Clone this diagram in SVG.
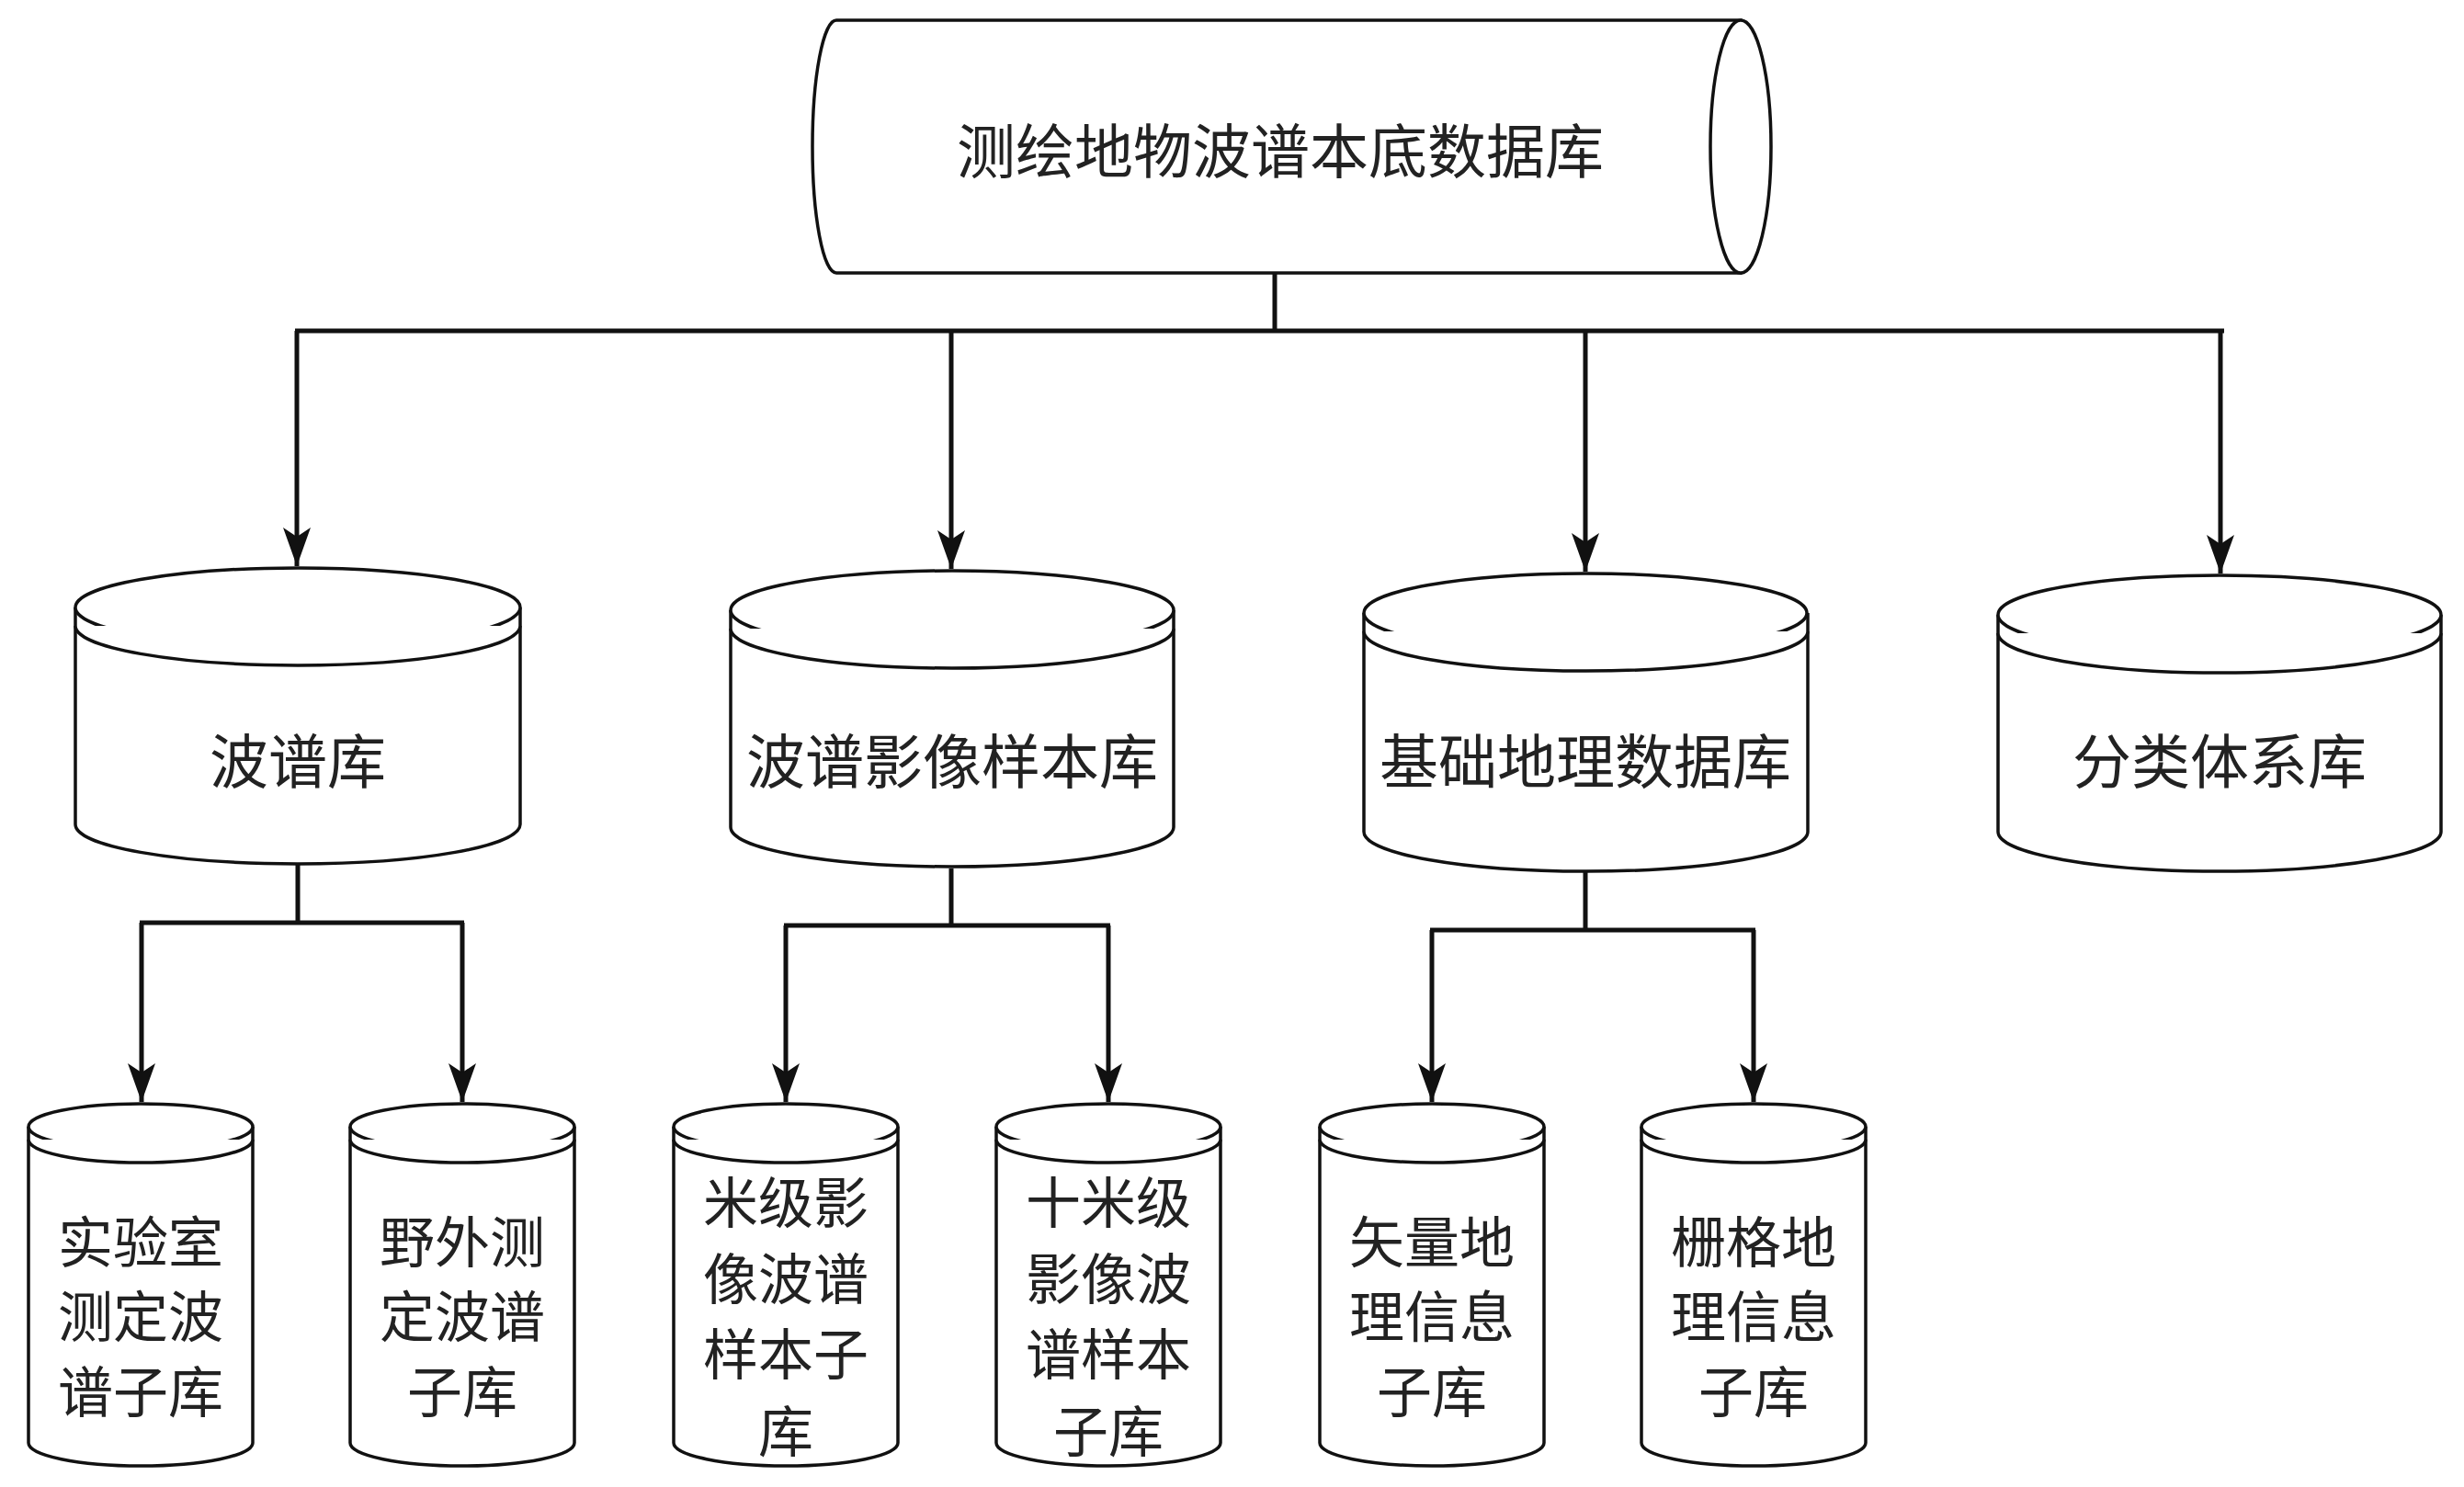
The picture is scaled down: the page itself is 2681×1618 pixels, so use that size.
<svg xmlns="http://www.w3.org/2000/svg" width="2681" height="1618" viewBox="0 0 2681 1618">
<style>
.s{fill:#fff;stroke:#111;stroke-width:3.5}
.c{fill:none;stroke:#111;stroke-width:5}
.t{font-family:"Noto Sans CJK SC",sans-serif;font-size:64px;fill:#222;text-anchor:middle;dominant-baseline:central}
.u{font-size:60px}
</style>
<defs>
<marker id="a" markerUnits="userSpaceOnUse" markerWidth="44" markerHeight="30" refX="42" refY="15" orient="auto" viewBox="0 0 44 30">
<path d="M0 0 L42 15 L0 30 L10 15 Z" fill="#111"/>
</marker>
</defs>
<g id="root">
<path class="s" d="M910 22 H1894 V297 H910 A26 137.5 0 0 1 910 22 Z"/>
<ellipse class="s" cx="1894" cy="159.5" rx="33" ry="137.5"/>
<text class="t" x="1393" y="160">测绘地物波谱本底数据库</text>
</g>
<g id="mid1"><path class="s" d="M82 661 V897 A242 43 0 0 0 566 897 V661"/><ellipse class="s" cx="324" cy="661" rx="242" ry="43"/><path class="s" fill="none" d="M82 681 A242 43 0 0 0 566 681"/><text class="t" x="324" y="824">波谱库</text></g>
<g id="mid2"><path class="s" d="M795 664 V900 A241 43 0 0 0 1277 900 V664"/><ellipse class="s" cx="1036" cy="664" rx="241" ry="43"/><path class="s" d="M795 684 A241 43 0 0 0 1277 684"/><text class="t" x="1036" y="824">波谱影像样本库</text></g>
<g id="mid3"><path class="s" d="M1484 667 V905 A241 43 0 0 0 1967 905 V667"/><ellipse class="s" cx="1725" cy="667" rx="241" ry="43"/><path class="s" d="M1484 687 A241 43 0 0 0 1967 687"/><text class="t" x="1725" y="824">基础地理数据库</text></g>
<g id="mid4"><path class="s" d="M2174 669 V905 A241 43 0 0 0 2656 905 V669"/><ellipse class="s" cx="2415" cy="669" rx="241" ry="43"/><path class="s" d="M2174 689 A241 43 0 0 0 2656 689"/><text class="t" x="2415" y="824">分类体系库</text></g>
<g id="b1"><path class="s" d="M31 1226 V1570 A122 25 0 0 0 275 1570 V1226"/><ellipse class="s" cx="153" cy="1226" rx="122" ry="25"/><path class="s" d="M31 1240 A122 25 0 0 0 275 1240"/><text class="t u"><tspan x="153" y="1347">实验室</tspan><tspan x="153" y="1428">测定波</tspan><tspan x="153" y="1510">谱子库</tspan></text></g>
<g id="b2"><path class="s" d="M381 1226 V1570 A122 25 0 0 0 625 1570 V1226"/><ellipse class="s" cx="503" cy="1226" rx="122" ry="25"/><path class="s" d="M381 1240 A122 25 0 0 0 625 1240"/><text class="t u"><tspan x="503" y="1347">野外测</tspan><tspan x="503" y="1428">定波谱</tspan><tspan x="503" y="1510">子库</tspan></text></g>
<g id="b3"><path class="s" d="M733 1226 V1570 A122 25 0 0 0 977 1570 V1226"/><ellipse class="s" cx="855" cy="1226" rx="122" ry="25"/><path class="s" d="M733 1240 A122 25 0 0 0 977 1240"/><text class="t u"><tspan x="855" y="1304">米级影</tspan><tspan x="855" y="1387">像波谱</tspan><tspan x="855" y="1469">样本子</tspan><tspan x="855" y="1553">库</tspan></text></g>
<g id="b4"><path class="s" d="M1084 1226 V1570 A122 25 0 0 0 1328 1570 V1226"/><ellipse class="s" cx="1206" cy="1226" rx="122" ry="25"/><path class="s" d="M1084 1240 A122 25 0 0 0 1328 1240"/><text class="t u"><tspan x="1206" y="1304">十米级</tspan><tspan x="1206" y="1387">影像波</tspan><tspan x="1206" y="1469">谱样本</tspan><tspan x="1206" y="1553">子库</tspan></text></g>
<g id="b5"><path class="s" d="M1436 1226 V1570 A122 25 0 0 0 1680 1570 V1226"/><ellipse class="s" cx="1558" cy="1226" rx="122" ry="25"/><path class="s" d="M1436 1240 A122 25 0 0 0 1680 1240"/><text class="t u"><tspan x="1558" y="1347">矢量地</tspan><tspan x="1558" y="1428">理信息</tspan><tspan x="1558" y="1510">子库</tspan></text></g>
<g id="b6"><path class="s" d="M1786 1226 V1570 A122 25 0 0 0 2030 1570 V1226"/><ellipse class="s" cx="1908" cy="1226" rx="122" ry="25"/><path class="s" d="M1786 1240 A122 25 0 0 0 2030 1240"/><text class="t u"><tspan x="1908" y="1347">栅格地</tspan><tspan x="1908" y="1428">理信息</tspan><tspan x="1908" y="1510">子库</tspan></text></g>
<g id="connectors">
<path class="c" d="M1387 297 V360 M321 360 H2420"/>
<path class="c" marker-end="url(#a)" d="M323 360 V616"/>
<path class="c" marker-end="url(#a)" d="M1035 360 V619"/>
<path class="c" marker-end="url(#a)" d="M1725 360 V622"/>
<path class="c" marker-end="url(#a)" d="M2416 360 V624"/>
<path class="c" d="M324 940 V1004 M152 1004 H505"/>
<path class="c" marker-end="url(#a)" d="M154 1004 V1199"/>
<path class="c" marker-end="url(#a)" d="M503 1004 V1199"/>
<path class="c" d="M1035 945 V1007 M853 1007 H1208"/>
<path class="c" marker-end="url(#a)" d="M855 1007 V1199"/>
<path class="c" marker-end="url(#a)" d="M1206 1007 V1199"/>
<path class="c" d="M1725 948 V1012 M1556 1012 H1910"/>
<path class="c" marker-end="url(#a)" d="M1558 1012 V1199"/>
<path class="c" marker-end="url(#a)" d="M1908 1012 V1199"/>
</g>
</svg>
